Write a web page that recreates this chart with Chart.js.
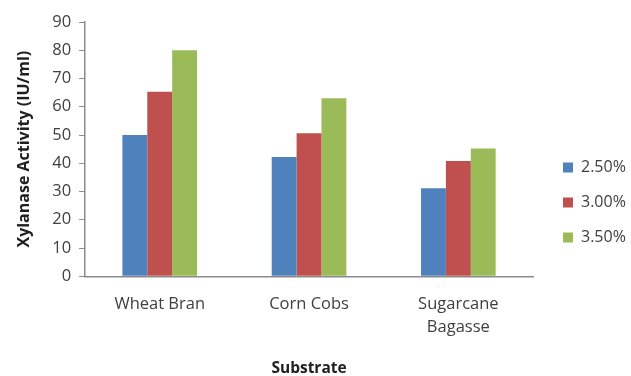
<!DOCTYPE html>
<html>
<head>
<meta charset="utf-8">
<script src="https://cdn.jsdelivr.net/npm/chart.js@4/dist/chart.umd.min.js"></script>
<style>
  html, body { margin: 0; padding: 0; background: #ffffff; }
  #wrap { width: 631px; height: 376px; }
</style>
</head>
<body>
<div id="wrap"><canvas id="c" width="631" height="376"></canvas></div>
<script>
// Substrates on the x axis
const categories = ['Wheat Bran', 'Corn Cobs', ['Sugarcane', 'Bagasse']];
// Substrate concentration series
const seriesNames = ['2.50%', '3.00%', '3.50%'];
const conc250 = [50, 42.2, 31.2];
const conc300 = [65.3, 50.6, 40.8];
const conc350 = [80, 63, 45.2];
const yTicks = [0, 10, 20, 30, 40, 50, 60, 70, 80, 90];

const colors = ['#4F81BD', '#C0504D', '#9BBB59'];
const fontFamily = "'Open Sans', 'DejaVu Sans', sans-serif";

const data = {
  labels: categories,
  datasets: [conc250, conc300, conc350].map((vals, i) => ({
    label: seriesNames[i],
    data: vals,
    backgroundColor: colors[i],
    borderWidth: 0,
    categoryPercentage: 0.5,
    barPercentage: 1.0
  }))
};

new Chart(document.getElementById('c'), {
  type: 'bar',
  data,
  options: {
    responsive: false,
    animation: false,
    devicePixelRatio: 1,
    layout: { padding: { left: 15, top: 22, right: 0, bottom: 0 } },
    plugins: {
      tooltip: { enabled: false },
      legend: {
        position: 'right',
        align: 'center',
        maxWidth: 87,
        title: { display: true, text: ' ', font: { size: 7, lineHeight: 1 }, padding: 0 },
        labels: {
          boxWidth: 10,
          boxHeight: 10,
          padding: 19,
          color: '#404040',
          font: { family: fontFamily, size: 16 }
        }
      }
    },
    scales: {
      x: {
        grid: { display: false, drawTicks: false },
        border: { display: true, color: '#8c8c8c', width: 1.5 },
        ticks: {
          color: '#404040',
          font: { family: fontFamily, size: 16.5, lineHeight: 1.4 },
          padding: 16,
          maxRotation: 0
        },
        title: {
          display: true,
          text: 'Substrate',
          color: '#202020',
          font: { family: fontFamily, size: 15.5, weight: 'bold', lineHeight: 1 },
          padding: { top: 6, bottom: 0 }
        }
      },
      y: {
        min: 0,
        max: 90,
        afterBuildTicks: (axis) => { axis.ticks = yTicks.map(v => ({ value: v })); },
        grid: {
          drawOnChartArea: false,
          drawTicks: true,
          tickLength: 6,
          color: '#8c8c8c'
        },
        border: { display: true, color: '#8c8c8c', width: 1.5 },
        ticks: {
          color: '#404040',
          font: { family: fontFamily, size: 16.5 },
          padding: 8
        },
        title: {
          display: true,
          text: 'Xylanase Activity (IU/ml)',
          color: '#202020',
          font: { family: fontFamily, size: 16, weight: 'bold', lineHeight: 1.2 },
          padding: { top: 0, bottom: 10 }
        }
      },
      // empty right-hand axis that keeps a gap between the plot and the legend
      gap: {
        axis: 'y',
        position: 'right',
        display: true,
        grid: { display: false },
        border: { display: false },
        ticks: { display: false },
        afterFit: (scale) => { scale.width = 11; }
      }
    }
  }
});
</script>
</body>
</html>
